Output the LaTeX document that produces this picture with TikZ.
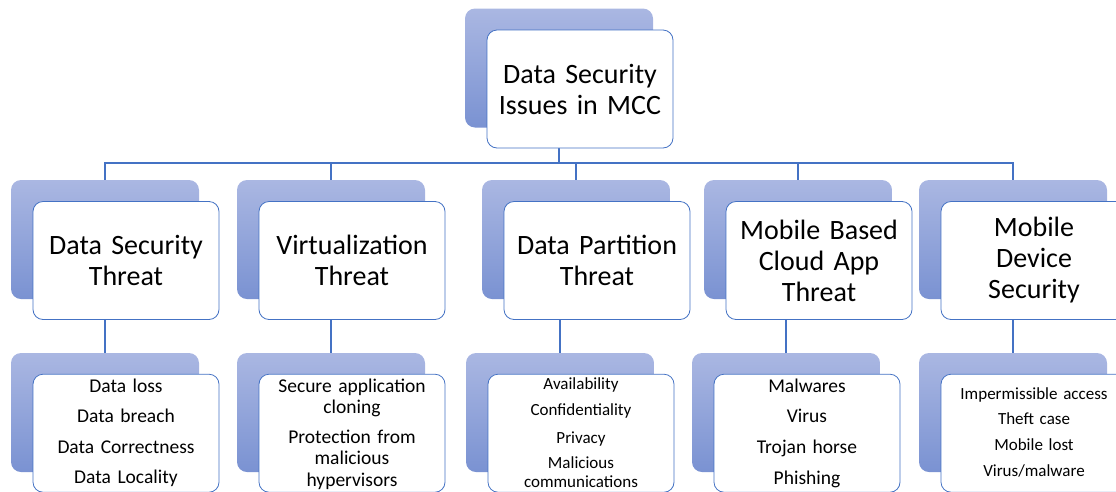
\documentclass[tikz,border=0pt]{standalone}
\usepackage{fontspec}
\setmainfont{Carlito}
\usetikzlibrary{backgrounds}
\definecolor{lineblue}{RGB}{68,114,196}
\definecolor{shadetop}{RGB}{170,183,226}
\definecolor{shadebot}{RGB}{122,146,210}

\begin{document}
\begin{tikzpicture}[
    x=1pt, y=-1pt,
    shadowbox/.style={rounded corners=10pt, top color=shadetop, bottom color=shadebot, minimum width=188pt, minimum height=119pt, inner sep=0pt},
    headbox/.style={rounded corners=10pt, draw=lineblue, fill=white, line width=0.8pt, minimum width=186pt, minimum height=118pt, inner sep=0pt, text width=180pt, align=center, font=\fontsize{28}{31}\selectfont},
    listbox/.style={rounded corners=10pt, draw=lineblue, fill=white, line width=0.8pt, anchor=north, minimum width=186pt, inner sep=0pt, text width=180pt, align=center},
    link/.style={draw=lineblue, line width=1.3pt}
]
\useasboundingbox (0,0) rectangle (1116,491);

% Korzeń
\node[shadowbox] (topsh) at (559,68) {};
\node[headbox] (top) at ([shift={(21,21)}]topsh.center) {Data Security\\Issues in MCC};

% Zagrożenia
\node[shadowbox] (t1sh) at (105,239.5) {};
\node[headbox] (t1) at ([shift={(21,21)}]t1sh.center) {Data Security\\Threat};
\node[shadowbox] (t2sh) at (331,239.5) {};
\node[headbox] (t2) at ([shift={(21,21)}]t2sh.center) {Virtualization\\Threat};
\node[shadowbox] (t3sh) at (576,239.5) {};
\node[headbox] (t3) at ([shift={(21,21)}]t3sh.center) {Data Partition\\Threat};
\node[shadowbox] (t4sh) at (798,239.5) {};
\node[headbox] (t4) at ([shift={(21,21)}]t4sh.center) {Mobile Based\\Cloud App\\Threat};
\node[shadowbox] (t5sh) at (1013,239.5) {};
\node[headbox] (t5) at ([shift={(21,21)}]t5sh.center) {Mobile\\Device\\Security};

% Listy
\node[shadowbox] (l1sh) at (105,412.5) {};
\node[listbox, text height=18pt, text depth=100pt, font=\fontsize{19.5}{30.5}\selectfont] (l1) at ([shift={(21,21)}]l1sh.north)
    {Data loss\\Data breach\\Data Correctness\\Data Locality};
\node[shadowbox] (l2sh) at (331,412.5) {};
\node[listbox, text height=18pt, text depth=100pt, font=\fontsize{19.5}{21.5}\selectfont] (l2) at ([shift={(21,21)}]l2sh.north)
    {Secure application\\cloning\\[8pt]Protection from\\malicious\\hypervisors};
\node[shadowbox] (l3sh) at (560,412.5) {};
\node[listbox, text height=15pt, text depth=103pt, font=\fontsize{17}{19}\selectfont] (l3) at ([shift={(21,21)}]l3sh.north)
    {Availability\\[7pt]Confidentiality\\[9pt]Privacy\\[6pt]Malicious\\communications};
\node[shadowbox] (l4sh) at (786,412.5) {};
\node[listbox, text height=18pt, text depth=100pt, font=\fontsize{19.5}{30.7}\selectfont] (l4) at ([shift={(21,21)}]l4sh.north)
    {Malwares\\Virus\\Trojan horse\\Phishing};
\node[shadowbox] (l5sh) at (1013,412.5) {};
\node[listbox, text height=25pt, text depth=93pt, font=\fontsize{17}{25.7}\selectfont] (l5) at ([shift={(21,21)}]l5sh.north)
    {Impermissible access\\Theft case\\Mobile lost\\Virus/malware};

% Połączenia
\begin{scope}[on background layer]
\coordinate (bus) at (559,163);
\draw[link] (topsh.south) -- (bus);
\draw[link] (t1sh.north) |- (bus);
\draw[link] (t2sh.north) |- (bus);
\draw[link] (t3sh.north) |- (bus);
\draw[link] (t4sh.north) |- (bus);
\draw[link] (t5sh.north) |- (bus);

\draw[link] (t1sh.south) -- (l1sh.north);
\draw[link] (t2sh.south) -- (l2sh.north);
\draw[link] (t3sh.south) -- ++(0,16.5) -| (l3sh.north);
\draw[link] (t4sh.south) -- ++(0,17) -| (l4sh.north);
\draw[link] (t5sh.south) -- (l5sh.north);
\end{scope}

\end{tikzpicture}
\end{document}
